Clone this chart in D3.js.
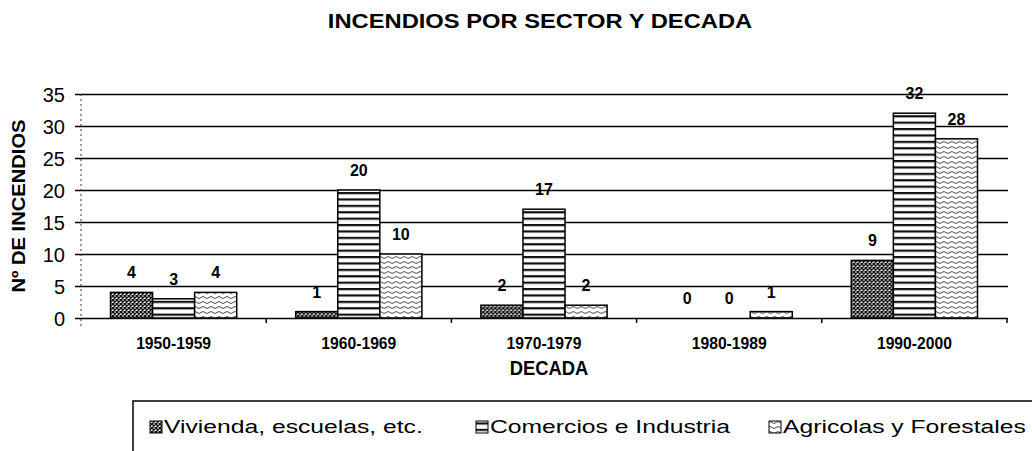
<!DOCTYPE html>
<html>
<head>
<meta charset="utf-8">
<script src="https://cdn.jsdelivr.net/npm/d3@7"></script>
<style>
  body { margin: 0; background: #fff; }
  text { font-family: "Liberation Sans", Arial, sans-serif; fill: #000; }
</style>
</head>
<body>
<div id="chart"></div>
<script>
const decades = ["1950-1959", "1960-1969", "1970-1979", "1980-1989", "1990-2000"];
const seriesNames = ["Vivienda, escuelas, etc.", "Comercios e Industria", "Agricolas y Forestales"];
const vivienda = [4, 1, 2, 0, 9];
const comercios = [3, 20, 17, 0, 32];
const agricolas = [4, 10, 2, 1, 28];
const yTicks = [0, 5, 10, 15, 20, 25, 30, 35];

const values = [vivienda, comercios, agricolas];
const patternIds = ["pat-viv", "pat-com", "pat-agr"];

const width = 1032, height = 451;

const svg = d3.select("#chart")
  .append("svg")
  .attr("width", width)
  .attr("height", height)
  .attr("viewBox", [0, 0, width, height]);

// fill patterns (scanned b/w chart look)
const defs = svg.append("defs");

const pv = defs.append("pattern").attr("id", "pat-viv")
  .attr("patternUnits", "userSpaceOnUse").attr("width", 4).attr("height", 4);
pv.append("rect").attr("width", 4).attr("height", 4).attr("fill", "#fff");
pv.append("path").attr("d", "M0,0L4,4M4,0L0,4").attr("stroke", "#111").attr("stroke-width", 1.4);

const pc = defs.append("pattern").attr("id", "pat-com")
  .attr("patternUnits", "userSpaceOnUse").attr("width", 10).attr("height", 6.4);
pc.append("rect").attr("width", 10).attr("height", 6.4).attr("fill", "#fff");
pc.append("rect").attr("y", 0).attr("width", 10).attr("height", 2.2).attr("fill", "#111");

const pa = defs.append("pattern").attr("id", "pat-agr")
  .attr("patternUnits", "userSpaceOnUse").attr("width", 8).attr("height", 5);
pa.append("rect").attr("width", 8).attr("height", 5).attr("fill", "#fff");
pa.append("path").attr("d", "M0,2.5q2,-2 4,0t4,0").attr("fill", "none")
  .attr("stroke", "#333").attr("stroke-width", 0.9);

// scales
const x0 = d3.scaleBand()
  .domain(decades)
  .range([81, 1007]);

const x1 = d3.scaleBand()
  .domain(seriesNames)
  .range([29.5, x0.bandwidth() - 29.5]);

const y = d3.scaleLinear()
  .domain([0, 35])
  .range([318, 94]);

// scaled text helper (the scan is a bit stretched horizontally)
function stext(g, x, yy, str, size, sx, weight, anchor, rot) {
  return g.append("text")
    .attr("transform", `translate(${x},${yy})${rot ? " rotate(" + rot + ")" : ""} scale(${sx},1)`)
    .attr("font-size", size)
    .attr("font-weight", weight)
    .attr("text-anchor", anchor)
    .text(str);
}

// y axis + gridlines
svg.append("g")
  .attr("transform", "translate(75,0)")
  .call(d3.axisLeft(y).tickValues(yTicks).tickSize(-(1008 - 75)).tickPadding(10))
  .call(g => g.select(".domain").remove())
  .call(g => g.selectAll(".tick line").attr("stroke", "#000").attr("stroke-width", 1.5))
  .call(g => g.selectAll(".tick text")
      .attr("font-size", 20)
      .attr("font-family", "'Liberation Sans', Arial, sans-serif")
      .attr("dy", "0.35em"));

// dotted value axis line
svg.append("line")
  .attr("x1", 81).attr("x2", 81)
  .attr("y1", y(35)).attr("y2", y(0) + 8)
  .attr("stroke", "#333")
  .attr("stroke-dasharray", "2,3");

// category separator ticks
const bounds = decades.slice(1).map(d => x0(d)).concat([x0.range()[1]]);
svg.selectAll(".xtick")
  .data(bounds)
  .join("line")
  .attr("class", "xtick")
  .attr("x1", d => d).attr("x2", d => d)
  .attr("y1", y(0)).attr("y2", y(0) + 5)
  .attr("stroke", "#000").attr("stroke-width", 1.5);

// bars
const groups = svg.selectAll(".decade")
  .data(decades)
  .join("g")
  .attr("class", "decade")
  .attr("transform", d => `translate(${x0(d)},0)`);

groups.selectAll("rect")
  .data((d, i) => seriesNames.map((s, j) => ({ s, j, v: values[j][i] })))
  .join("rect")
  .filter(d => d.v > 0)
  .attr("x", d => x1(d.s))
  .attr("y", d => y(d.v))
  .attr("width", x1.bandwidth())
  .attr("height", d => y(0) - y(d.v))
  .attr("fill", d => `url(#${patternIds[d.j]})`)
  .attr("stroke", "#000")
  .attr("stroke-width", 1.5);

// value labels
groups.selectAll(".val")
  .data((d, i) => seriesNames.map((s, j) => ({ s, j, v: values[j][i] })))
  .join("text")
  .attr("class", "val")
  .attr("x", d => x1(d.s) + x1.bandwidth() / 2)
  .attr("y", d => y(d.v) - 14)
  .attr("text-anchor", "middle")
  .attr("font-size", 16)
  .attr("font-weight", "bold")
  .text(d => d.v);

// category labels
decades.forEach(d => {
  stext(svg, x0(d) + x0.bandwidth() / 2, 349, d, 16, 0.98, "bold", "middle");
});

// titles
stext(svg, 540, 28, "INCENDIOS POR SECTOR Y DECADA", 21, 1.13, "bold", "middle");
stext(svg, 549, 375, "DECADA", 20, 0.92, "bold", "middle");
stext(svg, 25, 206, "Nº DE INCENDIOS", 18, 1.12, "bold", "middle", -90);

// legend
svg.append("rect")
  .attr("x", 133).attr("y", 401)
  .attr("width", 1000).attr("height", 100)
  .attr("fill", "#fff")
  .attr("stroke", "#000").attr("stroke-width", 1.5);

const legendX = [164, 490, 783];
seriesNames.forEach((s, j) => {
  svg.append("rect")
    .attr("x", legendX[j] - 14).attr("y", 421)
    .attr("width", 12).attr("height", 12)
    .attr("fill", `url(#${patternIds[j]})`)
    .attr("stroke", "#000").attr("stroke-width", 1);
  stext(svg, legendX[j], 433, s, 19, 1.3, "normal", "start");
});
</script>
</body>
</html>
